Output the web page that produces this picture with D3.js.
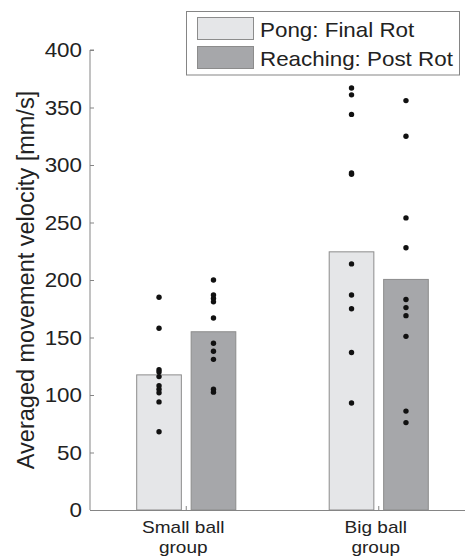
<!DOCTYPE html>
<html>
<head>
<meta charset="utf-8">
<script src="https://cdn.jsdelivr.net/npm/d3@7"></script>
<style>
  body { margin: 0; background: #fff; }
  svg { display: block; font-family: "Liberation Sans", Arial, sans-serif; }
</style>
</head>
<body>
<div id="container"></div>
<script>
/* CONSTANTS AND GLOBALS */
const width = 465;
const height = 557;
const margin = { left: 90, right: -10, top: 50, bottom: 47 };
const stretch = 1.12; // text in the original is a little wide

/* DATA */
const groups = ["Small ball group", "Big ball group"];
const groupLabels = [["Small ball", "group"], ["Big ball", "group"]];
const series = ["Pong: Final Rot", "Reaching: Post Rot"];
const pongMeans = [117.5, 224.5];
const reachMeans = [155, 200.5];
const pongSmall = [185, 158, 122, 120, 116, 108, 105, 102, 94, 68];
const reachSmall = [200, 187, 184, 181, 167, 145, 138, 131, 105, 102.5];
const pongBig = [367, 361, 344, 293, 292, 214, 187, 175, 137, 93];
const reachBig = [356, 325, 254, 228, 183, 176, 169, 151, 86, 76];
const yTicks = [0, 50, 100, 150, 200, 250, 300, 350, 400];

const colors = ["#e5e6e8", "#a6a7aa"];
const axisColor = "#858585";

/* SCALES */
const xScale = d3.scaleBand()
  .domain(groups)
  .range([margin.left, width - margin.right]);

const xSub = d3.scaleBand()
  .domain(series)
  .range([-55, 55])
  .paddingInner(0.18)
  .paddingOuter(0.1);

const yScale = d3.scaleLinear()
  .domain([0, 400])
  .range([height - margin.bottom, margin.top]);

// bars table built from the arrays
const bars = [];
groups.forEach((g, i) => {
  bars.push({ group: g, series: series[0], value: pongMeans[i] });
  bars.push({ group: g, series: series[1], value: reachMeans[i] });
});
const dotSets = [
  { group: groups[0], series: series[0], values: pongSmall },
  { group: groups[0], series: series[1], values: reachSmall },
  { group: groups[1], series: series[0], values: pongBig },
  { group: groups[1], series: series[1], values: reachBig }
];
const dots = dotSets.flatMap(s => s.values.map(v => ({ group: s.group, series: s.series, value: v })));

const xCenter = d => xScale(d.group) + xScale.bandwidth() / 2;
const xBar = d => xCenter(d) + xSub(d.series);
const place = (x, y) => `translate(${x},${y}) scale(${stretch},1)`;

/* HTML ELEMENTS */
const svg = d3.select("#container")
  .append("svg")
  .attr("width", width)
  .attr("height", height);

// bars
svg.selectAll("rect.bar")
  .data(bars)
  .join("rect")
  .attr("class", "bar")
  .attr("x", d => xBar(d))
  .attr("width", xSub.bandwidth())
  .attr("y", d => yScale(d.value))
  .attr("height", d => yScale(0) - yScale(d.value))
  .attr("fill", d => colors[series.indexOf(d.series)])
  .attr("stroke", "#8c8c8c")
  .attr("stroke-width", 1);

// dots
svg.selectAll("circle.dot")
  .data(dots)
  .join("circle")
  .attr("class", "dot")
  .attr("cx", d => xBar(d) + xSub.bandwidth() / 2)
  .attr("cy", d => yScale(d.value))
  .attr("r", 2.7)
  .attr("fill", "#111");

// y axis
const yAxis = svg.append("g")
  .attr("transform", `translate(${margin.left},0)`)
  .call(d3.axisRight(yScale).tickValues(yTicks).tickSize(4).tickFormat(""));
yAxis.select(".domain").attr("d", `M4,${yScale(400)}H0V${yScale(0)}`).attr("stroke", axisColor);
yAxis.selectAll(".tick line").attr("stroke", axisColor);

svg.selectAll("text.ytick")
  .data(yTicks)
  .join("text")
  .attr("class", "ytick")
  .attr("transform", d => place(82, yScale(d)))
  .attr("dy", "0.36em")
  .attr("text-anchor", "end")
  .style("font-size", "20px")
  .style("fill", "#222")
  .text(d => d);

// x axis
const xAxis = svg.append("g")
  .attr("transform", `translate(0,${yScale(0)})`)
  .call(d3.axisTop(xScale).tickSize(4).tickSizeOuter(0).tickFormat(""));
xAxis.select(".domain").attr("stroke", axisColor);
xAxis.selectAll(".tick line").attr("stroke", axisColor);

groups.forEach((g, i) => {
  svg.selectAll(null)
    .data(groupLabels[i])
    .join("text")
    .attr("transform", (d, j) => place(xScale(g) + xScale.bandwidth() / 2 - 3, yScale(0) + 23 + j * 20))
    .attr("text-anchor", "middle")
    .style("font-size", "17px")
    .style("fill", "#222")
    .text(d => d);
});

// y axis label
svg.append("text")
  .attr("transform", `translate(34,${(yScale(0) + yScale(400)) / 2}) rotate(-90)`)
  .attr("text-anchor", "middle")
  .style("font-size", "23.5px")
  .style("fill", "#222")
  .text("Averaged movement velocity [mm/s]");

// legend
const legend = svg.append("g");
legend.append("rect")
  .attr("x", 186.5).attr("y", 11.5)
  .attr("width", 273).attr("height", 63.5)
  .attr("fill", "#fff")
  .attr("stroke", axisColor);
series.forEach((s, i) => {
  legend.append("rect")
    .attr("x", 197.5).attr("y", 17.5 + i * 29)
    .attr("width", 56).attr("height", 22)
    .attr("fill", colors[i])
    .attr("stroke", "#8c8c8c");
  legend.append("text")
    .attr("transform", place(260, 36.5 + i * 29))
    .style("font-size", "20px")
    .style("fill", "#222")
    .text(s);
});
</script>
</body>
</html>
